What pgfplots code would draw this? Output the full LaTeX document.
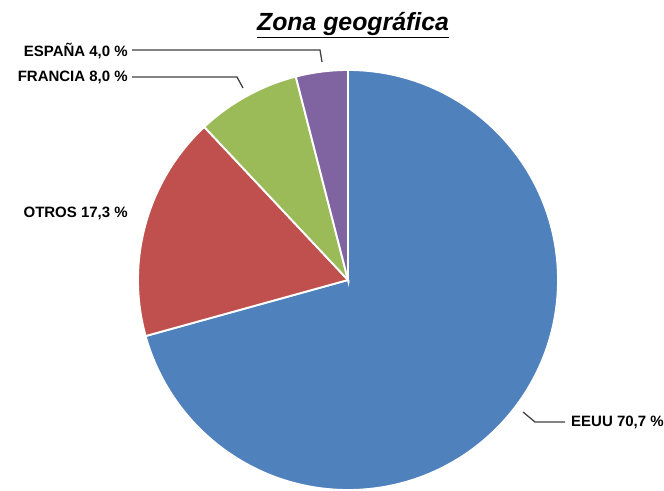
\documentclass[border=0pt]{standalone}
\usepackage{fontspec}
\setmainfont{Liberation Sans}
\usepackage{pgfplots}
\pgfplotsset{compat=1.18}
\definecolor{pieblue}{HTML}{4F81BD}
\definecolor{piered}{HTML}{C0504D}
\definecolor{piegreen}{HTML}{9BBB59}
\definecolor{piepurple}{HTML}{8064A2}
\definecolor{leader}{HTML}{404040}
\tikzset{labelfont/.style={font=\fontsize{12.8}{14}\selectfont\bfseries}}

\begin{document}
\begin{tikzpicture}
\begin{axis}[
    x=0.03cm, y=0.03cm,
    xmin=0, xmax=664, ymin=0, ymax=489,
    hide axis, clip=false,
]
\path (axis cs:0,0) rectangle (axis cs:664,489);

% slices, clockwise from 12 o'clock (values in %)
\filldraw[fill=pieblue, draw=white, line width=1.6pt]
    (axis cs:348,209) -- ++(90:6.3cm)
    arc[start angle=90, delta angle=-70.7*3.6, radius=6.3cm] -- cycle;
\filldraw[fill=piered, draw=white, line width=1.6pt]
    (axis cs:348,209) -- ++({90-70.7*3.6}:6.3cm)
    arc[start angle=90-70.7*3.6, delta angle=-17.3*3.6, radius=6.3cm] -- cycle;
\filldraw[fill=piegreen, draw=white, line width=1.6pt]
    (axis cs:348,209) -- ++({90-88.0*3.6}:6.3cm)
    arc[start angle=90-88.0*3.6, delta angle=-8.0*3.6, radius=6.3cm] -- cycle;
\filldraw[fill=piepurple, draw=white, line width=1.6pt]
    (axis cs:348,209) -- ++({90-96.0*3.6}:6.3cm)
    arc[start angle=90-96.0*3.6, delta angle=-4.0*3.6, radius=6.3cm] -- cycle;

% leader lines
\draw[leader, line width=1.1pt] (axis cs:132,439) -- (axis cs:320,439) -- (axis cs:322,427);
\draw[leader, line width=1.1pt] (axis cs:132,412) -- (axis cs:237,412) -- (axis cs:243,401);
\draw[leader, line width=1.1pt] (axis cs:523,77) -- (axis cs:535,67) -- (axis cs:565,67);

% labels
\node[anchor=east, inner sep=0pt, labelfont] at (axis cs:128,438) {ESPAÑA 4,0 \%};
\node[anchor=east, inner sep=0pt, labelfont] at (axis cs:128,412) {FRANCIA 8,0 \%};
\node[anchor=east, inner sep=0pt, labelfont] at (axis cs:128,276) {OTROS 17,3 \%};
\node[anchor=west, inner sep=0pt, labelfont] at (axis cs:571,67) {EEUU 70,7 \%};

% title
\node[font=\fontsize{21.2}{25}\selectfont\bfseries\itshape] at (axis cs:353,464) {\underline{Zona geográfica}};
\end{axis}
\end{tikzpicture}
\end{document}
